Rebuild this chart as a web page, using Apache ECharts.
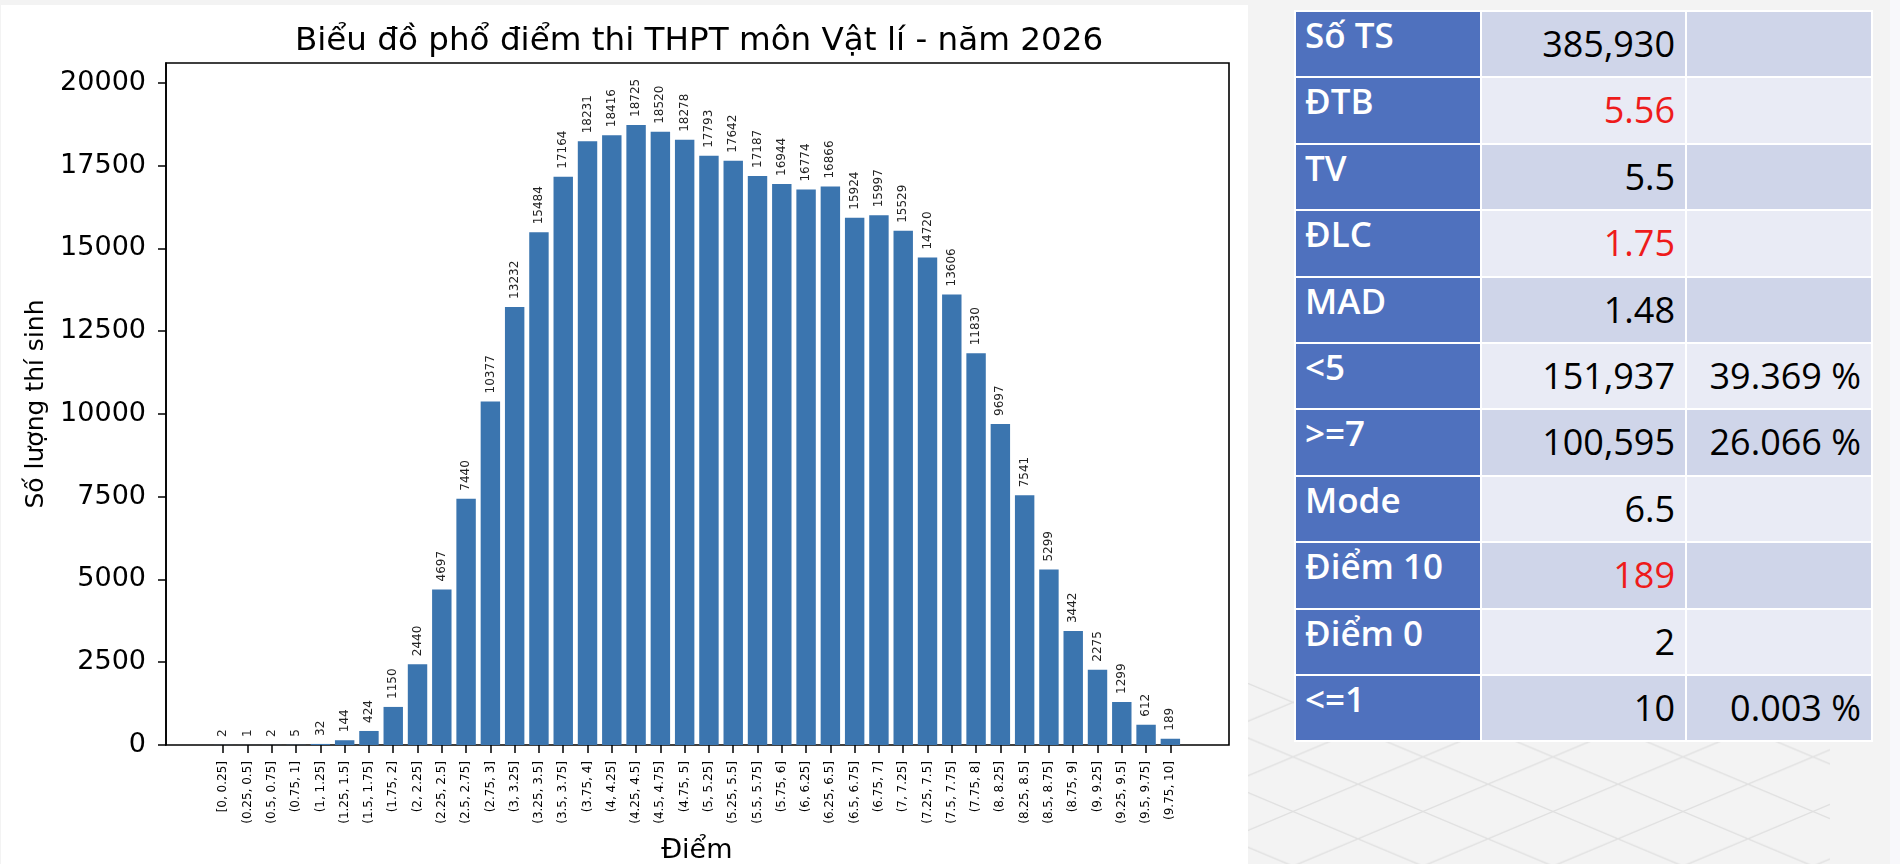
<!DOCTYPE html>
<html>
<head>
<meta charset="utf-8">
<script src="https://cdn.jsdelivr.net/npm/echarts@6/dist/echarts.min.js"></script>
<style>
  html, body { margin: 0; padding: 0; }
  body { width: 1900px; height: 864px; background: #f3f3f3; position: relative; overflow: hidden; }
  #panel { position: absolute; left: 1px; top: 5px; width: 1247px; height: 859px; background: #ffffff; }
  #rightStrip { position: absolute; left: 1890px; top: 0; width: 10px; height: 864px; background: #f8f8fb; }
  #chart { position: absolute; left: 0; top: 0; width: 1248px; height: 864px; }
  #decor { position: absolute; left: 1248px; top: 683px; }
  #stats { position: absolute; left: 1294px; top: 10px; border-collapse: separate; border-spacing: 2px;
           background: #ffffff; table-layout: fixed; font-family: "Open Sans", "Noto Sans", sans-serif; }
  #stats td { height: 64.4px; padding: 0; vertical-align: top; box-sizing: border-box; white-space: nowrap; }
  #stats td.lab { width: 184px; background: #4f71be; color: #ffffff; font-size: 35px; font-weight: 600;
                  line-height: 35px; padding-left: 9px; padding-top: 5px; }
  #stats td.val { width: 203px; font-size: 36px; line-height: 36px; color: #000; text-align: right;
                  padding-right: 10px; padding-top: 14px; }
  #stats td.pct { width: 184px; font-size: 36px; line-height: 36px; color: #000; text-align: right;
                  padding-right: 10px; padding-top: 14px; }
  #stats tr.dark td.val, #stats tr.dark td.pct { background: #cfd5e9; }
  #stats tr.light td.val, #stats tr.light td.pct { background: #e9ebf5; }
  #stats td.red { color: #ee1b1b; }
</style>
</head>
<body>
<div id="panel"></div>
<div id="rightStrip"></div>
<svg id="decor" width="582" height="181" xmlns="http://www.w3.org/2000/svg">
  <defs>
    <pattern id="lattice" patternUnits="userSpaceOnUse" width="130" height="54.6" x="-20" y="-8">
      <line x1="0" y1="0" x2="130" y2="54.6" stroke="#e0e0e0" stroke-width="1.3"/>
      <line x1="0" y1="54.6" x2="130" y2="0" stroke="#e0e0e0" stroke-width="1.3"/>
    </pattern>
  </defs>
  <rect x="0" y="0" width="582" height="181" fill="url(#lattice)"/>
</svg>
<div id="chart"></div>
<table id="stats"></table>
<script>
// ---- chart data ----
const xLabels = [
  "[0, 0.25]", "(0.25, 0.5]", "(0.5, 0.75]", "(0.75, 1]", "(1, 1.25]", "(1.25, 1.5]", "(1.5, 1.75]", "(1.75, 2]",
  "(2, 2.25]", "(2.25, 2.5]", "(2.5, 2.75]", "(2.75, 3]", "(3, 3.25]", "(3.25, 3.5]", "(3.5, 3.75]", "(3.75, 4]",
  "(4, 4.25]", "(4.25, 4.5]", "(4.5, 4.75]", "(4.75, 5]", "(5, 5.25]", "(5.25, 5.5]", "(5.5, 5.75]", "(5.75, 6]",
  "(6, 6.25]", "(6.25, 6.5]", "(6.5, 6.75]", "(6.75, 7]", "(7, 7.25]", "(7.25, 7.5]", "(7.5, 7.75]", "(7.75, 8]",
  "(8, 8.25]", "(8.25, 8.5]", "(8.5, 8.75]", "(8.75, 9]", "(9, 9.25]", "(9.25, 9.5]", "(9.5, 9.75]", "(9.75, 10]"
];
const counts = [
  2, 1, 2, 5, 32, 144, 424, 1150,
  2440, 4697, 7440, 10377, 13232, 15484, 17164, 18231,
  18416, 18725, 18520, 18278, 17793, 17642, 17187, 16944,
  16774, 16866, 15924, 15997, 15529, 14720, 13606, 11830,
  9697, 7541, 5299, 3442, 2275, 1299, 612, 189
];
const yTicks = [0, 2500, 5000, 7500, 10000, 12500, 15000, 17500, 20000];
const chartTitle = "Biểu đồ phổ điểm thi THPT môn Vật lí - năm 2026";
const xName = "Điểm";
const yName = "Số lượng thí sinh";

// ---- statistics table ----
const statLabels = ["Số TS", "ĐTB", "TV", "ĐLC", "MAD", "<5", ">=7", "Mode", "Điểm 10", "Điểm 0", "<=1"];
const statValues = ["385,930", "5.56", "5.5", "1.75", "1.48", "151,937", "100,595", "6.5", "189", "2", "10"];
const statPercents = ["", "", "", "", "", "39.369 %", "26.066 %", "", "", "", "0.003 %"];
const statRed = [false, true, false, true, false, false, false, false, true, false, false];

// build table
const tbl = document.getElementById('stats');
statLabels.forEach(function (lab, i) {
  const tr = document.createElement('tr');
  tr.className = (i % 2 === 0) ? 'dark' : 'light';
  const c1 = document.createElement('td'); c1.className = 'lab'; c1.textContent = lab;
  const c2 = document.createElement('td'); c2.className = 'val' + (statRed[i] ? ' red' : ''); c2.textContent = statValues[i];
  const c3 = document.createElement('td'); c3.className = 'pct'; c3.textContent = statPercents[i];
  tr.appendChild(c1); tr.appendChild(c2); tr.appendChild(c3);
  tbl.appendChild(tr);
});

// ---- chart ----
const FONT = "DejaVu Sans";
const yMax = Math.max.apply(null, counts) * 1.1;
const chart = echarts.init(document.getElementById('chart'), null, { renderer: 'canvas' });
chart.setOption({
  animation: false,
  backgroundColor: 'transparent',
  title: {
    text: chartTitle,
    left: 694,
    top: 20,
    textAlign: 'center',
    textStyle: { fontFamily: FONT, fontSize: 32.6, fontWeight: 'normal', color: '#000' }
  },
  grid: [
    { left: 166, top: 63, width: 1063, height: 682, show: true, borderColor: '#000', borderWidth: 1.6,
      backgroundColor: 'transparent', containLabel: false, outerBoundsMode: 'none' },
    { left: 211.1, top: 63, width: 971.4, height: 682, show: false, containLabel: false, outerBoundsMode: 'none' }
  ],
  xAxis: [
    { gridIndex: 0, type: 'value', min: 0, max: 1, show: false },
    {
      gridIndex: 1, type: 'category', data: xLabels,
      name: xName, nameLocation: 'middle', nameGap: 92,
      nameTextStyle: { fontFamily: FONT, fontSize: 27, color: '#000' },
      axisLine: { show: false },
      axisTick: { show: true, alignWithLabel: true, inside: false, length: 8, lineStyle: { color: '#000', width: 1.5 } },
      axisLabel: { interval: 0, rotate: 90, fontFamily: FONT, fontSize: 12, color: '#000', margin: 16 },
      splitLine: { show: false }
    }
  ],
  yAxis: [
    {
      gridIndex: 0, type: 'value', min: 0, max: yMax,
      name: yName, nameLocation: 'middle', nameGap: 96,
      nameTextStyle: { fontFamily: FONT, fontSize: 25, color: '#000' },
      axisLine: { show: true, lineStyle: { color: '#000', width: 1.6 } },
      axisTick: { show: true, inside: false, length: 8, lineStyle: { color: '#000', width: 1.5 }, customValues: yTicks },
      axisLabel: { fontFamily: FONT, fontSize: 27, color: '#000', margin: 20, customValues: yTicks,
                   formatter: function (v) { return String(v); } },
      splitLine: { show: false }
    },
    { gridIndex: 1, type: 'value', min: 0, max: yMax, show: false, splitLine: { show: false } }
  ],
  series: [
    {
      type: 'bar',
      xAxisIndex: 1,
      yAxisIndex: 1,
      data: counts,
      barWidth: '80%',
      itemStyle: { color: '#3b75af' },
      label: {
        show: true, position: 'top', rotate: 90, align: 'left', verticalAlign: 'middle', distance: 8,
        fontFamily: FONT, fontSize: 12, color: '#222'
      }
    }
  ]
});
</script>
</body>
</html>
